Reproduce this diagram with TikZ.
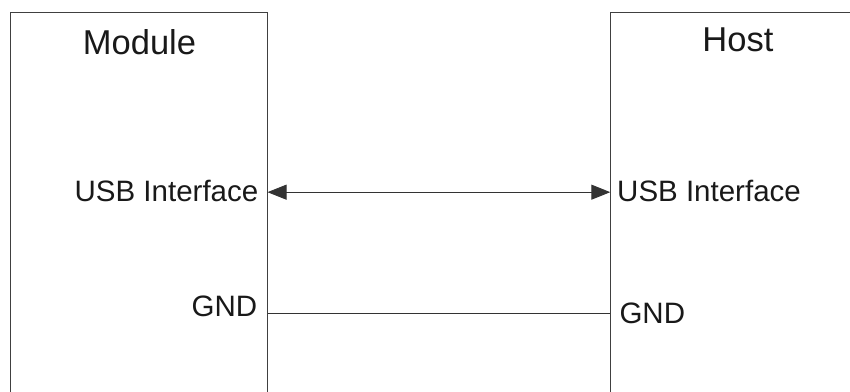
\documentclass[tikz,border=0pt]{standalone}
\usepackage{fontspec}
\setmainfont{Liberation Sans}
\usetikzlibrary{arrows.meta}

\begin{document}
\begin{tikzpicture}[x=1pt,y=-1pt,
  boxside/.style={draw=black!75, line width=1pt, minimum height=420, anchor=north west, inner sep=0pt},
  title/.style={font=\fontsize{34.5}{40}\selectfont, text=black!90, inner sep=0pt, anchor=base},
  pin/.style={font=\fontsize{29.5}{34}\selectfont, text=black!90, inner sep=0pt},
  wire/.style={draw=black!80, line width=0.9pt},
  tip/.tip={Triangle[length=19pt,width=15pt]}]
\useasboundingbox (0,0) rectangle (850,391);
\clip (0,0) rectangle (850,391);

\node[boxside, minimum width=257] (module) at (9.5,11.7) {};
\node[boxside, minimum width=300] (host) at (610.3,12) {};

\node[title] (mtitle) at (139.5,54) {Module};
\node[title] (htitle) at (737.9,51.7) {Host};

\node[pin, anchor=base east] (usbM) at (258.5,201) {USB Interface};
\node[pin, anchor=base west] (usbH) at (617,201.5) {USB Interface};
\node[pin, anchor=base east] (gndM) at (257.5,316.7) {GND};
\node[pin, anchor=base west] (gndH) at (619.3,323.3) {GND};

\draw[wire, tip-tip]
  ([yshift=-1.2pt]usbH.west -| module.east) -- ([yshift=-1.2pt]usbH.west -| host.west);
\draw[wire] (gndH -| module.east) -- (gndH -| host.west);
\end{tikzpicture}
\end{document}
